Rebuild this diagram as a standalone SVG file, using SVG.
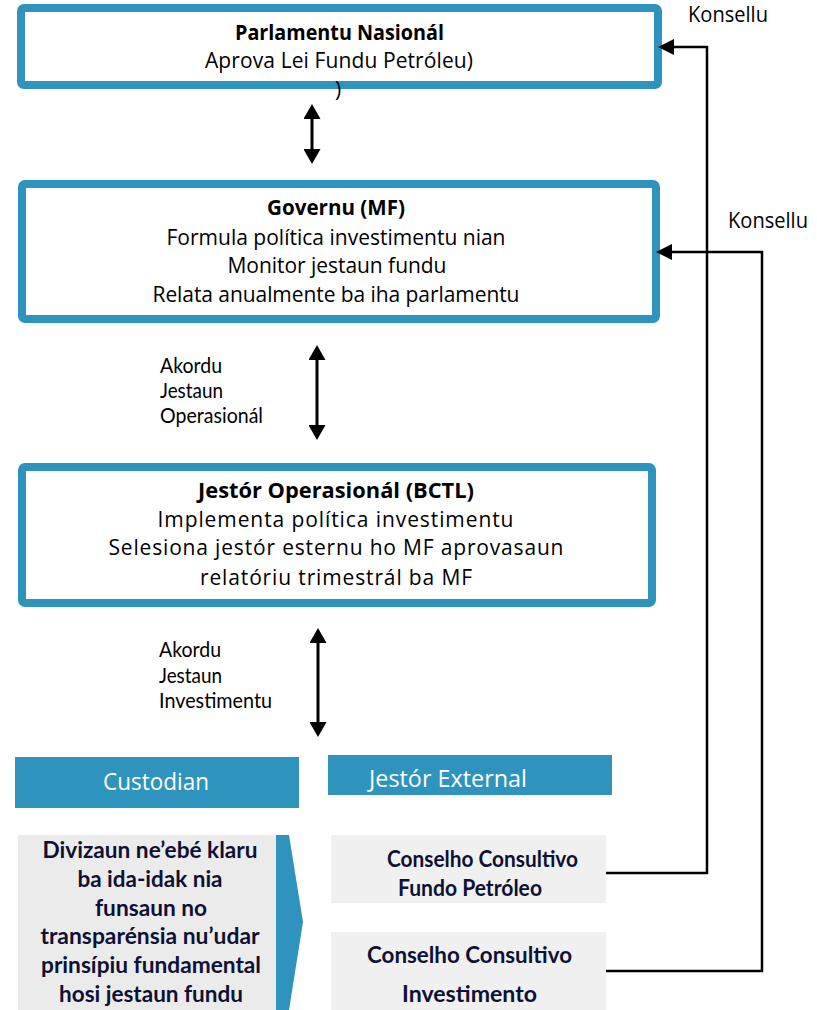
<svg xmlns="http://www.w3.org/2000/svg" width="817" height="1010" viewBox="0 0 817 1010">
<defs>
<style>
.box{fill:#ffffff;stroke:#2E94BE;stroke-width:8}
.t{font-family:"Open Sans","DejaVu Sans",sans-serif;font-size:21px;fill:#000;text-anchor:middle}
.b{font-weight:bold}
.lab{font-family:Lato,"Carlito","Liberation Sans",sans-serif;font-size:21px;fill:#000}
.hdr{font-family:"Open Sans","DejaVu Sans",sans-serif;font-size:23px;fill:#ffffff}
.nv{font-family:Lato,"Liberation Sans",sans-serif;font-size:23px;font-weight:bold;fill:#0f1035;text-anchor:middle}
.con{fill:none;stroke:#000;stroke-width:2.5}
.dbl{fill:none;stroke:#000;stroke-width:3}
</style>
<marker id="ah" markerUnits="userSpaceOnUse" markerWidth="17" markerHeight="17" refX="1" refY="8.5" orient="auto-start-reverse" viewBox="0 0 17 17">
<path d="M0,0 L15,8.5 L0,17 z" fill="#000"/>
</marker>
<marker id="ah2" markerUnits="userSpaceOnUse" markerWidth="17" markerHeight="16" refX="1" refY="8" orient="auto" viewBox="0 0 17 16">
<path d="M0,0 L16,8 L0,16 z" fill="#000"/>
</marker>
</defs>

<g id="parlamentu">
<rect class="box" x="21" y="8" width="637" height="77" rx="3"/>
<text class="t b" x="339.5" y="40" textLength="209" lengthAdjust="spacingAndGlyphs">Parlamentu Nasionál</text>
<text class="t" x="339" y="68" textLength="268" lengthAdjust="spacing">Aprova Lei Fundu Petróleu)</text>
<text class="t" x="338" y="97">)</text>
</g>

<g id="governu">
<rect class="box" x="22" y="184" width="634" height="135" rx="3"/>
<text class="t b" x="336" y="215" textLength="138" lengthAdjust="spacingAndGlyphs">Governu (MF)</text>
<text class="t" x="336" y="245" textLength="339" lengthAdjust="spacing">Formula política investimentu nian</text>
<text class="t" x="337" y="273" textLength="219" lengthAdjust="spacing">Monitor jestaun fundu</text>
<text class="t" x="336" y="302" textLength="367" lengthAdjust="spacing">Relata anualmente ba iha parlamentu</text>
</g>

<g id="jestor-operasional">
<rect class="box" x="22" y="467" width="630" height="136" rx="3"/>
<text class="t b" x="336" y="498" textLength="276" lengthAdjust="spacingAndGlyphs">Jestór Operasionál (BCTL)</text>
<text class="t" x="335.5" y="527" textLength="356" lengthAdjust="spacing">Implementa política investimentu</text>
<text class="t" x="336" y="555" textLength="455" lengthAdjust="spacing">Selesiona jestór esternu ho MF aprovasaun</text>
<text class="t" x="336" y="585" textLength="272" lengthAdjust="spacing">relatóriu trimestrál ba MF</text>
</g>

<g id="label-operasional">
<text class="lab" x="160" y="373" textLength="62" lengthAdjust="spacingAndGlyphs">Akordu</text>
<text class="lab" x="160" y="398" textLength="63" lengthAdjust="spacingAndGlyphs">Jestaun</text>
<text class="lab" x="160" y="423" textLength="103" lengthAdjust="spacingAndGlyphs">Operasionál</text>
</g>

<g id="label-investimentu">
<text class="lab" x="159" y="657" textLength="62" lengthAdjust="spacingAndGlyphs">Akordu</text>
<text class="lab" x="159" y="683" textLength="63" lengthAdjust="spacingAndGlyphs">Jestaun</text>
<text class="lab" x="159" y="708" textLength="113" lengthAdjust="spacingAndGlyphs">Investimentu</text>
</g>

<g id="label-konsellu-1">
<text class="t" x="728" y="22" textLength="80" lengthAdjust="spacingAndGlyphs">Konsellu</text>
</g>
<g id="label-konsellu-2">
<text class="t" x="768" y="228" textLength="80" lengthAdjust="spacingAndGlyphs">Konsellu</text>
</g>

<g id="custodian">
<rect x="15" y="757" width="284" height="51" fill="#2E94BE"/>
<text class="hdr" x="156" y="790" text-anchor="middle" textLength="106" lengthAdjust="spacingAndGlyphs">Custodian</text>
</g>

<g id="jestor-external">
<rect x="328" y="755" width="284" height="40" fill="#2E94BE"/>
<text class="hdr" x="369" y="787" textLength="158" lengthAdjust="spacingAndGlyphs">Jestór External</text>
</g>

<g id="divizaun">
<rect x="18" y="835" width="258" height="175" fill="#EBEBEB"/>
<polygon points="276,835 289,835 303,922 289,1010 276,1010" fill="#2E94BE"/>
<text class="nv" x="150" y="858" textLength="215" lengthAdjust="spacingAndGlyphs">Divizaun ne’ebé klaru</text>
<text class="nv" x="150" y="887" textLength="145" lengthAdjust="spacingAndGlyphs">ba ida-idak nia</text>
<text class="nv" x="151" y="916" textLength="112" lengthAdjust="spacingAndGlyphs">funsaun no</text>
<text class="nv" x="150" y="944" textLength="219" lengthAdjust="spacingAndGlyphs">transparénsia nu’udar</text>
<text class="nv" x="151" y="973" textLength="220" lengthAdjust="spacingAndGlyphs">prinsípiu fundamental</text>
<text class="nv" x="151" y="1002" textLength="184" lengthAdjust="spacingAndGlyphs">hosi jestaun fundu</text>
</g>

<g id="conselho-fundo">
<rect x="331" y="835" width="275" height="68" fill="#F0F0F0"/>
<text class="nv" x="482.5" y="867" textLength="191" lengthAdjust="spacingAndGlyphs">Conselho Consultivo</text>
<text class="nv" x="470" y="896" textLength="144" lengthAdjust="spacingAndGlyphs">Fundo Petróleo</text>
</g>

<g id="conselho-investimento">
<rect x="331" y="932" width="275" height="78" fill="#F0F0F0"/>
<text class="nv" x="469.5" y="963" textLength="205" lengthAdjust="spacingAndGlyphs">Conselho Consultivo</text>
<text class="nv" x="469.5" y="1002" textLength="135" lengthAdjust="spacingAndGlyphs">Investimento</text>
</g>

<g id="connectors">
<line class="dbl" x1="312" y1="118" x2="312" y2="150" marker-start="url(#ah)" marker-end="url(#ah)"/>
<line class="dbl" x1="317" y1="359" x2="317" y2="426" marker-start="url(#ah)" marker-end="url(#ah)"/>
<line class="dbl" x1="318" y1="642" x2="318" y2="723" marker-start="url(#ah)" marker-end="url(#ah)"/>
<path class="con" d="M606,873 H707 V47 H673" marker-end="url(#ah2)"/>
<path class="con" d="M606,971 H762 V252 H671" marker-end="url(#ah2)"/>
</g>
</svg>
